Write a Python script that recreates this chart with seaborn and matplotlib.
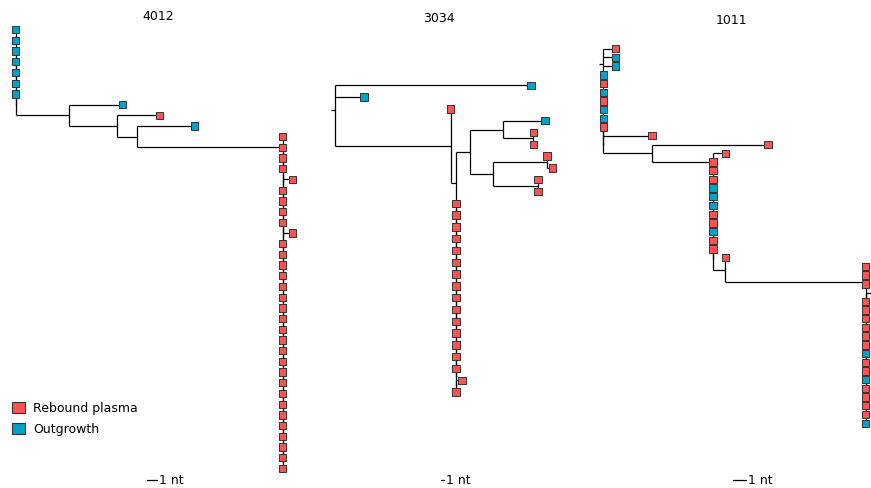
import matplotlib
matplotlib.use("Agg")
import matplotlib.pyplot as plt
from matplotlib.collections import LineCollection
from matplotlib.patches import Patch
import pandas as pd
import seaborn as sns

# sample types: R = rebound plasma, O = outgrowth
type_codes = ["R", "O"]
type_labels = ["Rebound plasma", "Outgrowth"]
type_colors = ["#ff5252", "#00a2c9"]

# --- tree data (branch lengths in nt, tips listed top to bottom) ---
# 4012
p4012_root_tips = "OO"
p4012_root_col = "OOOOO"
p4012_main_col = "RRRRRRRRRRRRRRRRRRRRRRRRRRRRRRRR"
p4012_main_off = {4: 1.0, 9: 1.0}
p4012_bl = {"A": 5.5, "A_tip": 5.6, "B": 5.0, "B_tip": 4.5, "C": 2.1, "C_tip": 6.0, "D": 15.2}

# 3034
p3034_col = "RRRRRRRRRRRRRRR"
p3034_bl = {"long": 59.4, "short": 8.8, "P": 35.0, "Q": 1.7, "S": 4.2, "T": 10.1, "T_tip": 12.6,
            "U": 9.1, "V": 7.1, "W": 16.2, "W_tip": 1.7, "X": 13.5, "end_tip": 1.8}

# 1011
p1011_top = "ROO"
p1011_root_col = "OROROOR"
p1011_mid_col = "RRROOORRORR"
p1011_low_col = "RRR"
p1011_right_col = "RRRRRRORRORRRRO"
p1011_bl = {"top": 1.0, "side_tip": 4.0, "M": 4.0, "M_tip": 9.5, "K": 5.0, "K_tip": 1.0,
            "J": 1.0, "H": 11.5, "off_tip": 3.0}


def tip(kind, bl=0.0):
    return {"kind": kind, "bl": bl, "kids": []}


def node(bl, *kids):
    return {"kind": None, "bl": bl, "kids": list(kids)}


def ladder(kinds, tail=None, offsets=None, bl=0.0):
    # zero-length comb, every tip hangs off the same x
    offsets = offsets or {}
    items = [tip(k, offsets.get(i, 0.0)) for i, k in enumerate(kinds)]
    if tail is not None:
        items.append(tail)
    sub = node(0.0, items[-2], items[-1])
    for t in reversed(items[:-2]):
        sub = node(0.0, t, sub)
    sub["bl"] = bl
    return sub


b = p4012_bl
tree_4012 = node(0.0,
    *[tip(k) for k in p4012_root_tips],
    ladder(p4012_root_col, tail=node(b["A"],
        tip("O", b["A_tip"]),
        node(b["B"],
             tip("R", b["B_tip"]),
             node(b["C"],
                  tip("O", b["C_tip"]),
                  ladder(p4012_main_col, offsets=p4012_main_off, bl=b["D"]))))))

b = p3034_bl
tree_3034 = node(0.0,
    tip("O", b["long"]),
    tip("O", b["short"]),
    node(b["P"],
         tip("R"),
         node(b["Q"],
              node(b["S"],
                   node(b["T"], tip("O", b["T_tip"]), node(b["U"], tip("R"), tip("R"))),
                   node(b["V"],
                        node(b["W"], tip("R"), tip("R", b["W_tip"])),
                        node(b["X"], tip("R"), tip("R")))),
              ladder(p3034_col, tail=node(0.0, tip("R", b["end_tip"]), tip("R"))))))

b = p1011_bl
tree_1011 = node(0.0,
    *[tip(k, b["top"]) for k in p1011_top],
    ladder(p1011_root_col + "R", offsets={len(p1011_root_col): b["side_tip"]}, tail=node(b["M"],
        tip("R", b["M_tip"]),
        ladder("R" + p1011_mid_col, offsets={0: b["K_tip"]}, bl=b["K"], tail=node(b["J"],
            tip("R"),
            node(b["H"],
                 *[tip(k) for k in p1011_low_col],
                 node(0.0, tip("R", b["off_tip"]), ladder(p1011_right_col))))))))

panels = ["4012", "3034", "1011"]
trees = [tree_4012, tree_3034, tree_1011]

# --- layout in pixels (figure 871 x 488) ---
W, H = 871, 488
root_x = [15.7, 335.0, 603.3]
px_per_nt = [9.6, 3.3, 12.2]
top_row = [29.7, 85.3, 48.7]
row_step = [10.7, 11.8, 8.71]
title_xy = [(158, 17), (439, 19), (731, 21)]
scale_x = [147, 441, 733.3]
scale_y = 480


def layout(tree):
    tips, segs = [], []

    def walk(n, x):
        n["x"] = x + n["bl"]
        if not n["kids"]:
            n["y"] = len(tips)
            tips.append(n)
            return n["y"]
        ys = [walk(k, n["x"]) for k in n["kids"]]
        n["y"] = sum(ys) / len(ys)
        segs.append([(n["x"], min(ys)), (n["x"], max(ys))])
        for k in n["kids"]:
            segs.append([(n["x"], k["y"]), (k["x"], k["y"])])
        return n["y"]

    walk(tree, 0.0)
    return tips, segs


sns.set_style("white")
plt.rcParams["text.color"] = "black"
fig = plt.figure(figsize=(W / 100, H / 100), dpi=100)
palette = dict(zip(type_codes, type_colors))

for i, (name, tree) in enumerate(zip(panels, trees)):
    tips, segs = layout(tree)
    n = len(tips)
    x0, ppn, y0, dy = root_x[i], px_per_nt[i], top_row[i], row_step[i]
    ybot = y0 + (n - 1) * dy
    width = 260
    ax = fig.add_axes([x0 / W, 1 - ybot / H, width / W, (ybot - y0) / H])
    ax.set_xlim(0, width / ppn)
    ax.set_ylim(n - 1, 0)
    ax.axis("off")

    # root stub
    segs.append([(-4.0 / ppn, tree["y"]), (0.0, tree["y"])])
    ax.add_collection(LineCollection(segs, colors="black", linewidths=0.9, clip_on=False, zorder=1))

    df = pd.DataFrame({"x": [t["x"] for t in tips], "y": [t["y"] for t in tips],
                       "type": [t["kind"] for t in tips]})
    sns.scatterplot(data=df, x="x", y="y", hue="type", palette=palette, marker="s", s=28,
                    edgecolor="#333333", linewidth=0.7, legend=False, ax=ax, clip_on=False, zorder=3)

    fig.text(title_xy[i][0] / W, 1 - title_xy[i][1] / H, name, ha="center", va="center", fontsize=9)

    # scale bar: 1 nt
    sx = (scale_x[i] - x0) / ppn
    sy = (scale_y - y0) / dy
    ax.plot([sx, sx + 1], [sy, sy], color="black", lw=0.9, clip_on=False)
    ax.text(sx + 1 + 2 / ppn, sy, "1 nt", ha="left", va="center", fontsize=9)

handles = [Patch(facecolor=c, edgecolor="#333333", linewidth=0.8) for c in type_colors]
fig.legend(handles, type_labels, loc="upper left", bbox_to_anchor=(12 / W, 1 - 402 / H),
           frameon=False, fontsize=9, handlelength=1.0, handleheight=1.0, handletextpad=0.7,
           labelspacing=0.6, borderpad=0, borderaxespad=0)

fig.savefig("out.png", dpi=100)
